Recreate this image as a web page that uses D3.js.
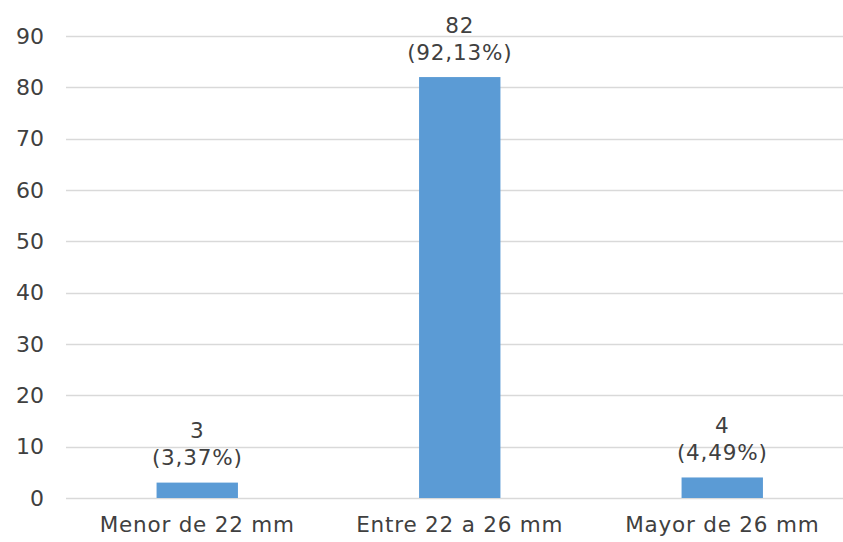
<!DOCTYPE html>
<html><head><meta charset="utf-8">
<script src="https://cdn.jsdelivr.net/npm/d3@7"></script>
<style>body{margin:0;background:#fff}svg{display:block}</style>
</head><body>
<svg id="c" width="843" height="542"></svg>
<script>
const categories = ["Menor de 22 mm", "Entre 22 a 26 mm", "Mayor de 26 mm"];
const values = [3, 82, 4];
const percentLabels = ["(3,37%)", "(92,13%)", "(4,49%)"];
const yTicks = [0, 10, 20, 30, 40, 50, 60, 70, 80, 90];

const svg = d3.select("#c");
const font = "'DejaVu Sans', Verdana, sans-serif";
const fs = 21.5, ls = "0.8px";
const x = d3.scaleBand().domain(categories).range([66, 853.5]).paddingInner(0.69).paddingOuter(0.345);
const y = d3.scaleLinear().domain([0, 90]).range([498, 36]);

const grid = svg.append("g");
grid.selectAll("line").data(yTicks).join("line")
  .attr("x1", 66).attr("x2", 843)
  .attr("y1", d => Math.round(y(d)) + 0.5).attr("y2", d => Math.round(y(d)) + 0.5)
  .attr("stroke", "#d9d9d9").attr("stroke-width", 1.5);

const yAxis = d3.axisLeft(y).tickValues(yTicks).tickSize(0).tickPadding(0);
const ya = svg.append("g").attr("transform", "translate(44,0)").call(yAxis);
ya.select(".domain").remove();
ya.selectAll("text").attr("font-family", font).attr("font-size", 22).attr("fill", "#404040");

svg.append("g").selectAll("rect").data(values).join("rect")
  .attr("x", (d, i) => x(categories[i]))
  .attr("width", x.bandwidth())
  .attr("y", d => y(d))
  .attr("height", d => y(0) - y(d))
  .attr("fill", "#5b9bd5");

const xAxis = d3.axisBottom(x).tickSize(0).tickPadding(0);
const xa = svg.append("g").attr("transform", "translate(0," + 513 + ")").call(xAxis);
xa.select(".domain").remove();
xa.selectAll("text").attr("font-family", font).attr("font-size", fs).attr("letter-spacing", ls).attr("fill", "#404040").attr("dy", "0.9em");

const lbl = svg.append("g").attr("font-family", font).attr("font-size", fs).attr("letter-spacing", ls).attr("fill", "#404040").attr("text-anchor", "middle");
values.forEach((v, i) => {
  const cx = x(categories[i]) + x.bandwidth() / 2;
  lbl.append("text").attr("x", cx).attr("y", y(v) - 52).attr("dy", "0.35em").text(v);
  lbl.append("text").attr("x", cx).attr("y", y(v) - 25).attr("dy", "0.35em").text(percentLabels[i]);
});
</script>
</body></html>
